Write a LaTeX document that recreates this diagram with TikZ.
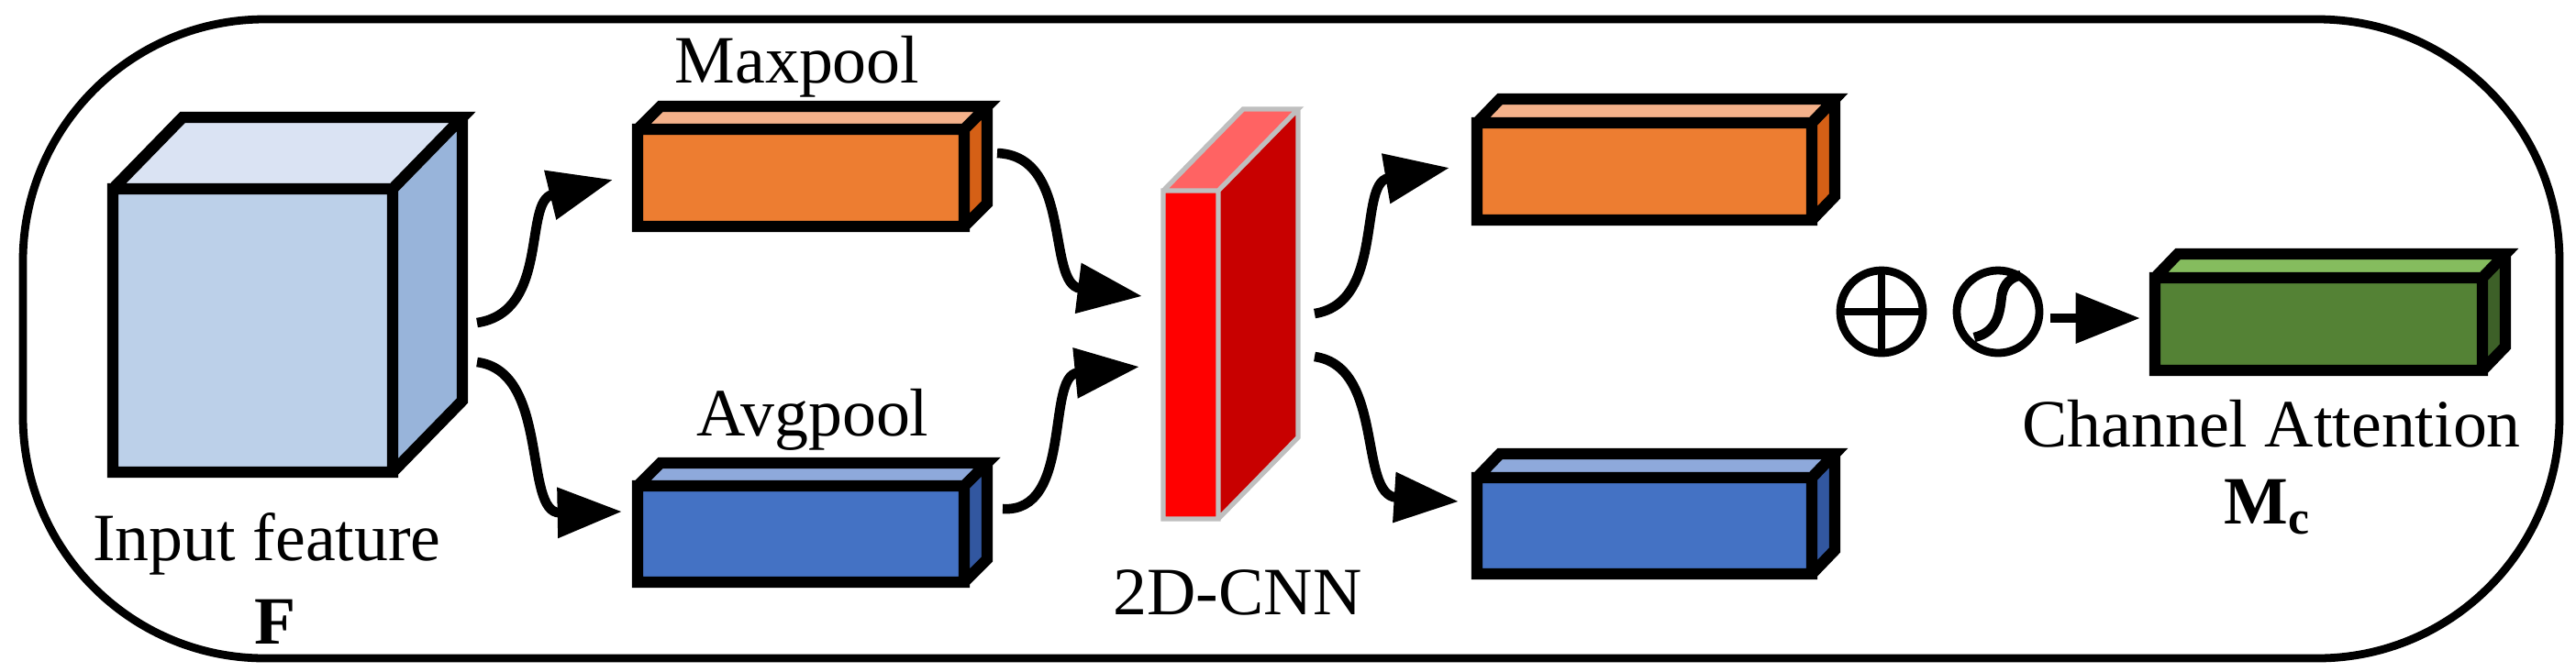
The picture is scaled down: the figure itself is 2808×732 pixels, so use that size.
\documentclass[tikz,border=0pt]{standalone}
\usepackage{fontspec}
\setmainfont{Liberation Serif}
\usetikzlibrary{arrows.meta}
\definecolor{cubF}{RGB}{188,208,233}
\definecolor{cubT}{RGB}{218,227,243}
\definecolor{cubS}{RGB}{152,180,218}
\definecolor{orF}{RGB}{237,125,49}
\definecolor{orT}{RGB}{244,177,138}
\definecolor{orS}{RGB}{213,96,22}
\definecolor{blF}{RGB}{68,114,196}
\definecolor{blT}{RGB}{142,169,219}
\definecolor{blS}{RGB}{50,87,160}
\definecolor{grF}{RGB}{84,130,53}
\definecolor{grT}{RGB}{133,188,94}
\definecolor{grS}{RGB}{61,96,40}
\definecolor{rdT}{RGB}{255,99,99}
\definecolor{rdS}{RGB}{200,0,0}
\newcommand\mycuboid[9]{% x1 y1 x2 y2 dx dy front top side
  \fill[#7] (#1,#2) rectangle (#3,#4);
  \fill[#8] (#1,#2) -- ++(#5,#6) -- ++(#3-#1,0) -- (#3,#2) -- cycle;
  \fill[#9] (#3,#2) -- ++(#5,#6) -- ++(0,#4-#2) -- (#3,#4) -- cycle;
  \draw[box] (#1,#2) rectangle (#3,#4) (#1,#2) -- ++(#5,#6) -- ++(#3-#1,0) -- (#3,#2)
     ++(#5,#6) -- ++(0,#4-#2) -- (#3,#4);}
\tikzset{box/.style={line width=3.5pt,line join=miter},
  lbl/.style={font=\fontsize{21pt}{24pt}\selectfont,inner sep=0pt},
  op/.style={draw,line width=2.5pt,circle,minimum size=25.6pt,inner sep=0pt},
  con/.style={line width=3pt,-{Triangle[length=20pt,width=15pt]}}}
\begin{document}
\begin{tikzpicture}[x=0.01cm,y=-0.01cm]
\useasboundingbox (0,0) rectangle (2808,732);
\draw[line width=2.5pt,rounded corners=75pt] (25,21) rectangle (2790,718);
% input cube
\mycuboid{123}{206}{428}{515}{76}{-78}{cubF}{cubT}{cubS}
\node[lbl] (inp) at (291,593) {Input feature};
\node[lbl] (F) at (300,678) {\textbf{F}};
% maxpool / avgpool
\mycuboid{695}{141}{1051}{247}{25}{-25}{orF}{orT}{orS}
\mycuboid{695}{530}{1051}{635}{25}{-25}{blF}{blT}{blS}
\node[lbl] (mx) at (869,73) {Maxpool};
\node[lbl] (av) at (886,458) {Avgpool};
% CNN
\fill[red] (1268,208) rectangle (1328,566);
\fill[rdT] (1268,208) -- (1355,119) -- (1415,119) -- (1328,208) -- cycle;
\fill[rdS] (1328,208) -- (1415,119) -- (1415,477) -- (1328,566) -- cycle;
\draw[gray!50,line width=1.5pt] (1268,208) rectangle (1328,566) (1268,208) -- (1355,119) -- (1415,119) -- (1328,208) (1415,119) -- (1415,477) -- (1328,566);
\node[lbl] (cnn) at (1349,646) {2D-CNN};
% right boxes
\mycuboid{1610}{134}{1975}{240}{25}{-26}{orF}{orT}{orS}
\mycuboid{1610}{521}{1975}{626}{25}{-26}{blF}{blT}{blS}
% green
\mycuboid{2349}{303}{2706}{404}{25}{-26}{grF}{grT}{grS}
\node[lbl] (ca) at (2476,462) {Channel Attention};
\node[lbl] (mc) at (2472,553) {$\mathbf{M}_{\mathbf{c}}$};
% operators
\node[op] (plus) at (2051,340) {};
\draw[line width=2.5pt] (plus.north) -- (plus.south) (plus.west) -- (plus.east);
\node[op] (sig) at (2178,340) {};
\draw[line width=3pt] (2152,368) .. controls (2178,362) and (2180,340) .. (2182,322) .. controls (2185,308) and (2192,303) .. (2203,300);
\coordinate (gA) at (2333,347);
\coordinate (sA) at (2235,347);
\draw[con] (sA) -- (gA);
% connectors
\coordinate (c1) at (520,352); \coordinate (t1) at (668,196);
\coordinate (c2) at (520,395); \coordinate (t2) at (678,558);
\draw[con] (c1) .. controls (600,340) and (570,220) .. (t1);
\draw[con] (c2) .. controls (600,405) and (570,560) .. (t2);
\coordinate (c3) at (1087,167); \coordinate (t3) at (1245,323);
\coordinate (c4) at (1093,555); \coordinate (t4) at (1242,400);
\draw[con] (c3) .. controls (1170,170) and (1140,310) .. (t3);
\draw[con] (c4) .. controls (1170,560) and (1140,410) .. (t4);
\coordinate (c5) at (1433,342); \coordinate (t5) at (1580,183);
\coordinate (c6) at (1433,389); \coordinate (t6) at (1590,547);
\draw[con] (c5) .. controls (1510,330) and (1480,200) .. (t5);
\draw[con] (c6) .. controls (1510,400) and (1480,540) .. (t6);
\end{tikzpicture}
\end{document}
